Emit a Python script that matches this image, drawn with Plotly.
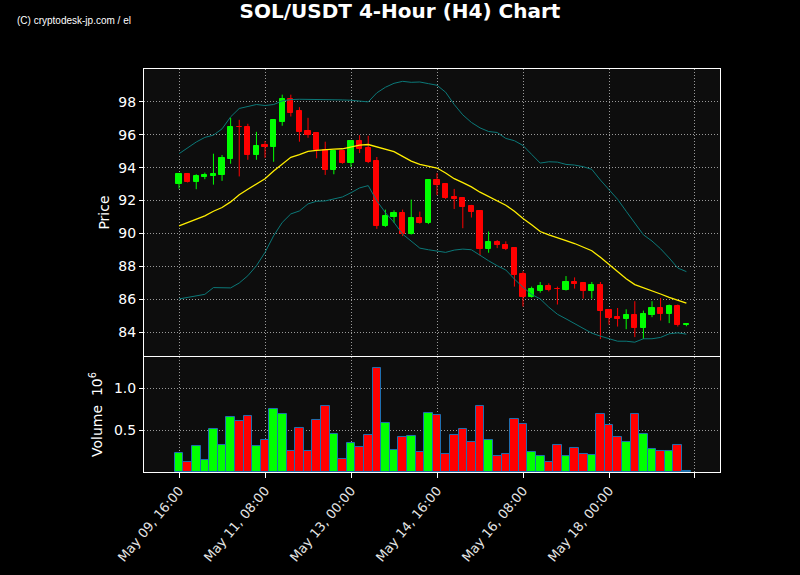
import plotly.graph_objects as go
import pandas as pd

# ---- data ----
start_time = "2024-05-09 16:00"
n_candles = 60
times = pd.date_range(start_time, periods=n_candles, freq="4h")

open_ = [93.00, 93.60, 93.13, 93.41, 93.47, 93.56, 94.53, 96.50, 96.50, 94.77,
         95.41, 95.25, 96.75, 98.20, 97.43, 96.22, 96.10, 95.05, 93.84, 95.01,
         94.28, 95.62, 95.17, 94.40, 90.44, 91.01, 91.25, 89.96, 90.93, 90.61,
         93.23, 92.99, 92.22, 92.14, 91.66, 91.37, 89.07, 89.47, 89.31, 89.11,
         87.54, 86.16, 86.53, 86.81, 86.65, 86.57, 87.05, 87.01, 86.53, 86.89,
         85.35, 84.95, 84.83, 85.07, 84.26, 85.07, 85.47, 85.11, 85.60, 84.46]
high = [93.60, 93.62, 93.60, 93.70, 94.85, 94.77, 97.03, 96.91, 96.67, 96.18,
        95.62, 96.90, 98.44, 98.44, 97.68, 97.03, 96.15, 95.58, 95.05, 95.05,
        95.65, 95.98, 95.94, 94.65, 91.45, 91.41, 91.45, 92.06, 91.33, 93.27,
        93.68, 93.03, 92.71, 92.16, 91.74, 91.40, 90.12, 89.60, 89.52, 89.15,
        87.70, 86.77, 87.05, 86.97, 86.77, 87.41, 87.33, 87.05, 87.05, 87.05,
        85.40, 85.47, 85.39, 85.88, 85.31, 85.88, 86.08, 85.68, 85.68, 84.52]
low = [92.73, 93.10, 92.69, 93.30, 92.97, 93.20, 94.24, 93.47, 94.48, 94.48,
       94.60, 94.36, 96.55, 97.11, 95.58, 95.82, 94.57, 93.56, 93.60, 94.24,
       94.04, 94.89, 94.28, 90.28, 90.40, 90.65, 89.84, 89.93, 90.60, 90.57,
       92.34, 92.10, 91.49, 90.32, 90.97, 88.67, 88.83, 89.11, 88.99, 86.77,
       85.56, 86.10, 86.40, 86.48, 85.68, 86.53, 86.65, 86.04, 86.04, 83.58,
       84.46, 84.34, 84.18, 83.70, 83.58, 84.91, 84.71, 84.55, 84.34, 84.36]
close = [93.60, 93.13, 93.47, 93.55, 93.60, 94.57, 96.50, 96.45, 94.77, 95.33,
         95.25, 96.87, 98.20, 97.35, 96.14, 95.98, 95.05, 93.84, 95.01, 94.28,
         95.62, 95.13, 94.32, 90.44, 91.05, 91.25, 89.96, 90.93, 90.65, 93.23,
         92.95, 92.14, 92.10, 91.62, 91.29, 89.07, 89.47, 89.31, 89.07, 87.49,
         86.16, 86.63, 86.81, 86.57, 86.60, 87.05, 86.93, 86.53, 86.89, 85.31,
         84.87, 84.83, 85.07, 84.26, 85.11, 85.47, 85.11, 85.60, 84.46, 84.50]

bb_mid = [90.46, 90.65, 90.85, 91.07, 91.35, 91.58, 91.92, 92.36, 92.69, 93.01,
          93.33, 93.80, 94.24, 94.63, 94.79, 94.99, 95.05, 95.11, 95.13, 95.15,
          95.27, 95.37, 95.41, 95.25, 95.13, 94.97, 94.69, 94.40, 94.20, 94.10,
          93.98, 93.68, 93.33, 93.09, 92.83, 92.51, 92.24, 92.02, 91.72, 91.35,
          90.91, 90.53, 90.12, 89.92, 89.72, 89.56, 89.39, 89.19, 88.95, 88.55,
          88.10, 87.70, 87.25, 86.89, 86.71, 86.53, 86.32, 86.12, 85.92, 85.76]
bb_upper = [94.85, 95.21, 95.56, 95.84, 95.98, 96.36, 97.09, 97.60, 97.74, 97.84,
            97.78, 97.84, 98.06, 98.14, 98.16, 98.16, 98.16, 98.16, 98.14, 98.12,
            98.10, 98.06, 98.00, 98.55, 98.89, 99.13, 99.25, 99.19, 99.21, 99.11,
            99.01, 98.59, 97.84, 97.21, 96.75, 96.42, 96.20, 96.14, 95.78, 95.64,
            95.35, 94.81, 94.28, 94.36, 94.34, 94.20, 94.16, 94.06, 93.90, 93.25,
            92.69, 92.08, 91.35, 90.65, 89.92, 89.54, 89.07, 88.51, 87.90, 87.68]
bb_lower = [86.02, 86.12, 86.22, 86.30, 86.71, 86.71, 86.69, 86.99, 87.43, 88.04,
            88.85, 89.86, 90.67, 91.19, 91.37, 91.80, 91.96, 91.98, 92.10, 92.22,
            92.48, 92.77, 92.91, 91.98, 91.27, 90.67, 89.96, 89.52, 89.11, 89.01,
            88.91, 88.85, 88.99, 89.05, 89.01, 88.65, 88.34, 88.04, 87.78, 87.23,
            86.73, 86.30, 86.02, 85.52, 85.09, 84.81, 84.51, 84.20, 83.94, 83.76,
            83.60, 83.45, 83.45, 83.39, 83.60, 83.60, 83.68, 83.90, 83.96, 83.88]

volume_m = [0.232, 0.114, 0.315, 0.146, 0.516, 0.327, 0.657, 0.610, 0.669, 0.315,
            0.386, 0.752, 0.693, 0.256, 0.528, 0.256, 0.622, 0.787, 0.457, 0.161,
            0.350, 0.303, 0.445, 1.236, 0.587, 0.268, 0.421, 0.433, 0.244, 0.705,
            0.681, 0.220, 0.445, 0.516, 0.362, 0.787, 0.386, 0.185, 0.220, 0.634,
            0.575, 0.244, 0.185, 0.114, 0.327, 0.185, 0.291, 0.209, 0.197, 0.693,
            0.563, 0.421, 0.362, 0.693, 0.457, 0.280, 0.256, 0.256, 0.327, 0.008]

price_ticks = [84, 86, 88, 90, 92, 94, 96, 98]
volume_ticks = [0.5, 1.0]
volume_tick_labels = ["0.5", "1.0"]
x_tick_times = ["2024-05-09 16:00", "2024-05-11 08:00", "2024-05-13 00:00",
                "2024-05-14 16:00", "2024-05-16 08:00", "2024-05-18 00:00",
                "2024-05-19 16:00"]
x_tick_labels = ["May 09, 16:00", "May 11, 08:00", "May 13, 00:00",
                 "May 14, 16:00", "May 16, 08:00", "May 18, 00:00", ""]

# ---- styling ----
UP = "#00ff00"
DOWN = "#ff0000"
BAND = "#0b7878"
MID = "#ffee00"
GRID = "#9a9a9a"
FONT = "DejaVu Sans"
PERIOD_MS = 4 * 3600 * 1000

fig = go.Figure()

up_idx = [i for i in range(n_candles) if close[i] >= open_[i]]
dn_idx = [i for i in range(n_candles) if close[i] < open_[i]]

# wicks
for idx, col in ((up_idx, UP), (dn_idx, DOWN)):
    wx, wy = [], []
    for i in idx:
        wx += [times[i], times[i], None]
        wy += [low[i], high[i], None]
    fig.add_trace(go.Scatter(x=wx, y=wy, mode="lines", line=dict(color=col, width=1),
                             xaxis="x", yaxis="y", hoverinfo="skip", showlegend=False))

# bodies
for idx, col in ((up_idx, UP), (dn_idx, DOWN)):
    fig.add_trace(go.Bar(
        x=[times[i] for i in idx],
        y=[abs(close[i] - open_[i]) for i in idx],
        base=[min(open_[i], close[i]) for i in idx],
        width=PERIOD_MS * 0.6,
        marker=dict(color=col, line=dict(color=col, width=1)),
        xaxis="x", yaxis="y", showlegend=False))

# bollinger bands
fig.add_trace(go.Scatter(x=times, y=bb_upper, mode="lines", line=dict(color=BAND, width=1),
                         xaxis="x", yaxis="y", showlegend=False))
fig.add_trace(go.Scatter(x=times, y=bb_lower, mode="lines", line=dict(color=BAND, width=1),
                         xaxis="x", yaxis="y", showlegend=False))
fig.add_trace(go.Scatter(x=times, y=bb_mid, mode="lines", line=dict(color=MID, width=1.3),
                         xaxis="x", yaxis="y", showlegend=False))

# volume
vcolors = [UP if close[i] >= open_[i] else DOWN for i in range(n_candles)]
fig.add_trace(go.Bar(x=times, y=volume_m, width=PERIOD_MS,
                     marker=dict(color=vcolors, line=dict(color="#1f6fb0", width=1)),
                     xaxis="x2", yaxis="y2", showlegend=False))

x_range = ["2024-05-08 23:42", "2024-05-20 03:38"]
axis_common = dict(showline=True, linecolor="white", linewidth=1, mirror=True,
                   gridcolor=GRID, griddash="1px,2px", gridwidth=1, zeroline=False,
                   automargin=False)

fig.update_layout(
    width=800, height=575,
    paper_bgcolor="black", plot_bgcolor="#0d0d0d",
    margin=dict(l=144, r=80, t=69, b=103),
    barmode="overlay", bargap=0,
    font=dict(family=FONT, color="white", size=14),
    title=dict(text="<b>SOL/USDT 4-Hour (H4) Chart</b>", x=0.5, xref="container",
               xanchor="center",
               y=1 - 11 / 575, yref="container", yanchor="middle",
               font=dict(family=FONT, size=20, color="white")),
    xaxis=dict(domain=[0, 1], anchor="y", range=x_range, type="date",
               tickvals=x_tick_times, showticklabels=False, ticks="", **axis_common),
    yaxis=dict(domain=[0.2878, 1], anchor="x", range=[82.55, 100.0],
               tickvals=price_ticks, ticks="outside", ticklen=4, tickcolor="white",
               tickfont=dict(size=14),
               title=dict(text="Price", standoff=5, font=dict(size=14)), **axis_common),
    xaxis2=dict(domain=[0, 1], anchor="y2", range=x_range, type="date", matches="x",
                tickvals=x_tick_times, ticktext=x_tick_labels, tickangle=-50,
                ticks="outside", ticklen=5, tickcolor="white",
                tickfont=dict(color="#e6e6e6", size=13), **axis_common),
    yaxis2=dict(domain=[0, 0.2854], anchor="x2", range=[0, 1.37],
                tickvals=volume_ticks, ticktext=volume_tick_labels,
                ticks="outside", ticklen=4, tickcolor="white",
                tickfont=dict(size=14),
                title=dict(text="Volume  10<sup>6</sup>", standoff=8, font=dict(size=14)),
                **axis_common),
    annotations=[dict(text="(C) cryptodesk-jp.com / el", xref="paper", yref="paper",
                      x=(15 - 144) / 576, y=(472 - 21) / 403, xanchor="left",
                      yanchor="middle", showarrow=False,
                      font=dict(family="Liberation Sans", size=10, color="white"))],
)

fig.write_html("out.html", config={"displayModeBar": False},
               post_script="document.body.style.margin='0';"
                           "document.body.style.background='black';")
